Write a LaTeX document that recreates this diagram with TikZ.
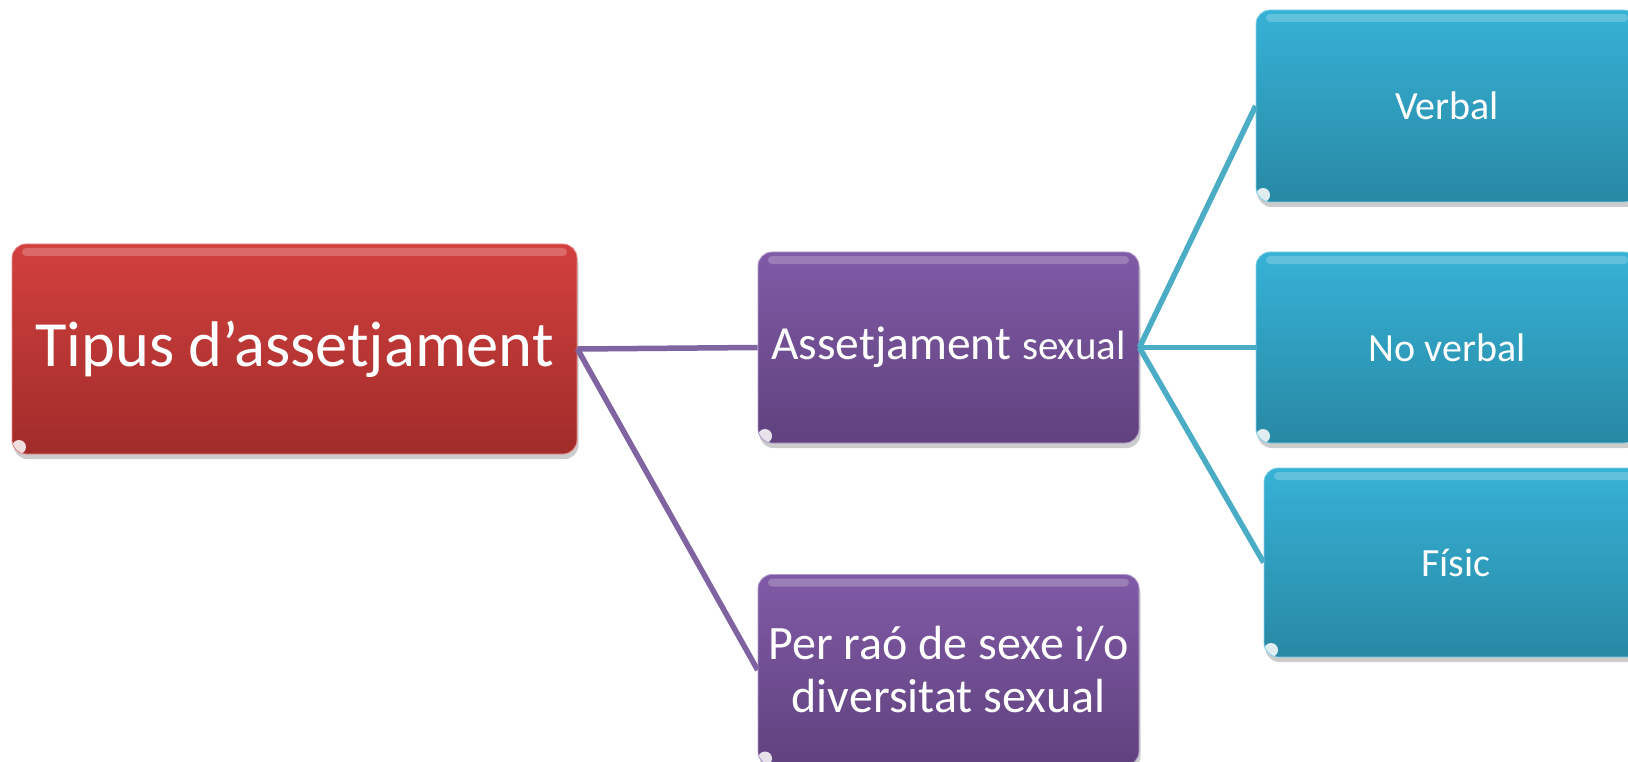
\documentclass[tikz,border=0pt]{standalone}
\usepackage{fontspec}
\setmainfont{Carlito}
\usetikzlibrary{shadows}

% theme colours
\definecolor{redtop}{RGB}{210,64,62}
\definecolor{redbot}{RGB}{160,44,42}
\definecolor{purtop}{RGB}{128,90,166}
\definecolor{purbot}{RGB}{96,66,126}
\definecolor{cyantop}{RGB}{54,178,214}
\definecolor{cyanbot}{RGB}{40,136,164}
\definecolor{purline}{RGB}{128,100,162}
\definecolor{cyanline}{RGB}{75,172,198}

\tikzset{
  glossy/.style={
    rectangle, rounded corners=14pt, inner sep=0pt, text=white, align=center,
    drop shadow={shadow xshift=1.5pt, shadow yshift=-5pt, opacity=0.2, fill=black},
    path picture={
      % soft highlight band along the top edge
      \fill[white, opacity=0.22, rounded corners=4pt]
        ([xshift=10pt,yshift=-4pt]path picture bounding box.north west) rectangle
        ([xshift=-10pt,yshift=-12pt]path picture bounding box.north east);
      % small reflection in the lower left corner
      \fill[white, opacity=0.85]
        ([xshift=7pt,yshift=7pt]path picture bounding box.south west) circle (7pt);
    }
  },
  redbox/.style={glossy, top color=redtop, bottom color=redbot,
    draw=redtop!60!white, line width=0.8pt},
  purbox/.style={glossy, top color=purtop, bottom color=purbot,
    draw=purtop!60!white, line width=0.8pt},
  cyanbox/.style={glossy, top color=cyantop, bottom color=cyanbot,
    draw=cyantop!60!white, line width=0.8pt},
  purlink/.style={draw=purline, line width=5.5pt},
  cyanlink/.style={draw=cyanline, line width=5.5pt},
}

\begin{document}
\begin{tikzpicture}[x=1pt, y=-1pt]
  \clip (0,0) rectangle (1628,762);
  \fill[white] (0,0) rectangle (1628,762);

  % root
  \node[redbox, minimum width=565pt, minimum height=210pt,
        font=\fontsize{64.5}{72}\selectfont] (root) at (294.5,349)
    {Tipus d’assetjament};

  % second level
  \node[purbox, minimum width=381pt, minimum height=191pt,
        font=\fontsize{47.5}{54}\selectfont] (sexual) at (948.5,347.5)
    {Assetjament {\fontsize{41}{48}\selectfont sexual}};
  \node[purbox, minimum width=381pt, minimum height=191pt,
        font=\fontsize{48}{53}\selectfont] (rao) at (948.5,670)
    {Per raó de sexe i/o\\diversitat sexual};

  % third level
  \node[cyanbox, minimum width=382pt, minimum height=192pt,
        font=\fontsize{40}{48}\selectfont] (verbal) at (1447,106) {Verbal};
  \node[cyanbox, minimum width=382pt, minimum height=191pt,
        font=\fontsize{40}{48}\selectfont] (noverbal) at (1447,347.5) {No verbal};
  \node[cyanbox, minimum width=384pt, minimum height=189pt,
        font=\fontsize{40}{48}\selectfont] (fisic) at (1456,562.5) {Físic};

  % connectors
  \draw[purlink] (root.east) -- (sexual.west);
  \draw[purlink] (root.east) -- (rao.west);
  \draw[cyanlink] (sexual.east) -- (verbal.west);
  \draw[cyanlink] (sexual.east) -- (noverbal.west);
  \draw[cyanlink] (sexual.east) -- (fisic.west);
\end{tikzpicture}
\end{document}
